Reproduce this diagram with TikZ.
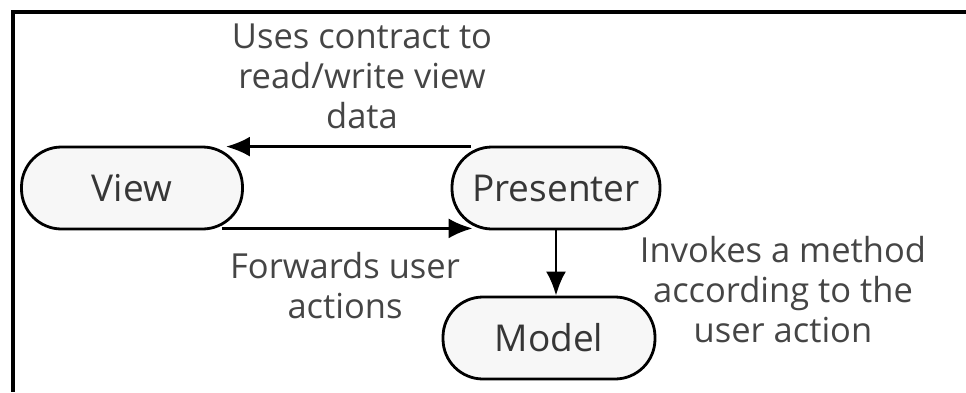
\documentclass[tikz,border=0pt]{standalone}
\usepackage{fontspec}
\setmainfont{Open Sans}
\usetikzlibrary{arrows.meta}
\definecolor{nodefill}{HTML}{F7F7F7}
\definecolor{nodetext}{HTML}{363636}
\definecolor{labeltext}{HTML}{454545}
\begin{document}
\begin{tikzpicture}[x=1pt,y=-1pt,
  blob/.style={draw=black,line width=2.8pt,fill=nodefill,rounded corners=40pt,
    minimum height=82pt,inner sep=0pt,text=nodetext,
    font=\fontsize{37}{40}\selectfont},
  lbl/.style={align=center,text=labeltext,inner sep=0pt,
    font=\fontsize{34.5}{40}\selectfont},
  arr/.style={line width=2.8pt,-{Latex[length=24pt,width=20pt]}},
  frame/.style={line width=4pt}]
\useasboundingbox (0,0) rectangle (966,392);
\coordinate (frTR) at (966,12);
\coordinate (frTL) at (13,12);
\coordinate (frBL) at (13,392);
\draw[frame] (frTR) -- (frTL) -- (frBL);
\node[blob,minimum width=221pt] (view) at (132,188) {View};
\node[blob,minimum width=208pt] (pres) at (556,188) {Presenter};
\node[blob,minimum width=212pt] (model) at (549,338) {Model};
\draw[arr] ([xshift=20pt,yshift=-1pt]pres.north west) -- ([xshift=-18pt,yshift=-1pt]view.north east);
\draw[arr] ([xshift=-22pt,yshift=2pt]view.south east) -- ([xshift=22pt,yshift=2pt]pres.south west);
\draw[arr] (pres.south) -- (pres.south |- model.north);
\node[lbl] (l1) at (362,76) {Uses contract to\\read/write view\\data};
\node[lbl] (l2) at (345,286) {Forwards user\\actions};
\node[lbl] (l3) at (783,290) {Invokes a method\\according to the\\user action};
\end{tikzpicture}
\end{document}
